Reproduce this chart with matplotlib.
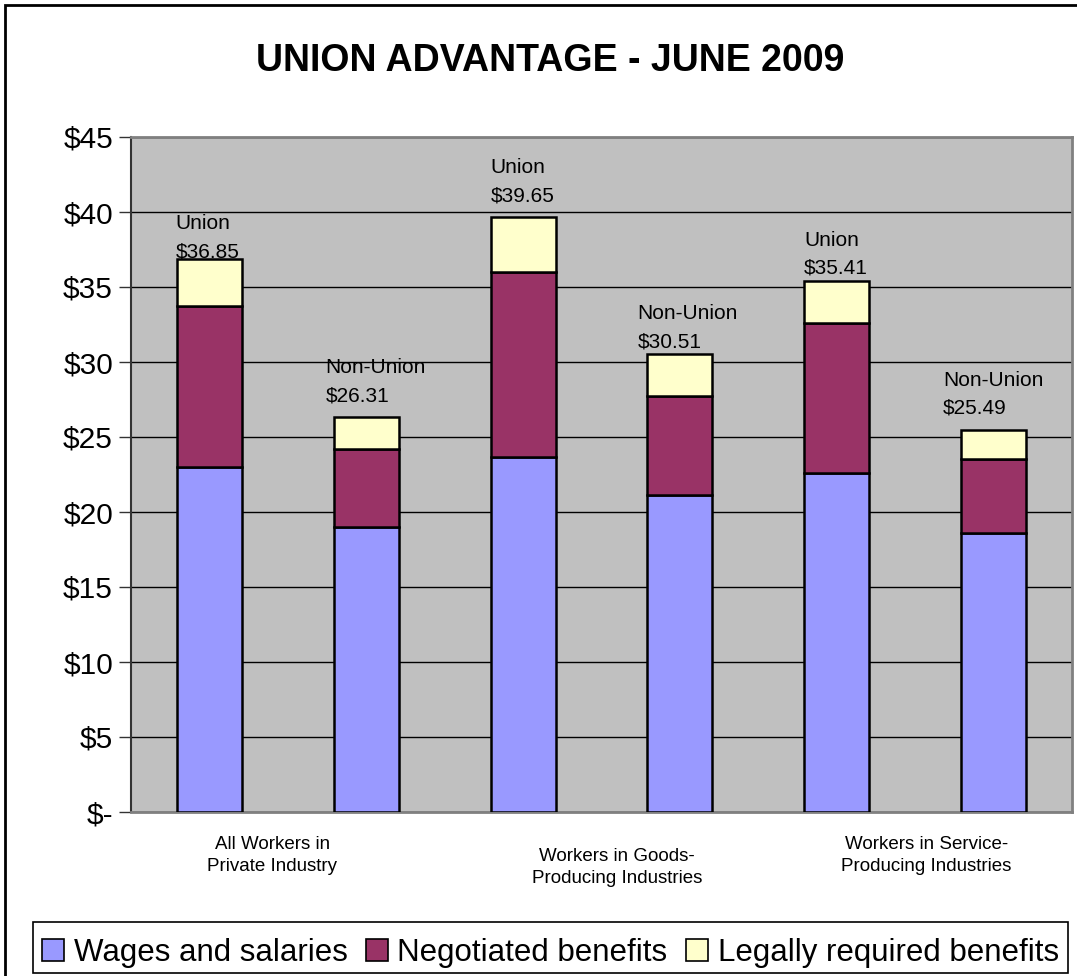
import matplotlib.pyplot as plt
import numpy as np
from matplotlib.patches import Rectangle

plt.rcParams['font.family'] = ['Liberation Sans', 'DejaVu Sans']

# Werte (Stundenkosten in $)
bar_kind = ['Union', 'Non-Union', 'Union', 'Non-Union', 'Union', 'Non-Union']
totals = [36.85, 26.31, 39.65, 30.51, 35.41, 25.49]
wages = [22.98, 19.00, 23.65, 21.13, 22.58, 18.60]
negotiated = [10.77, 5.18, 12.37, 6.63, 10.00, 4.91]
legally = [3.10, 2.13, 3.63, 2.75, 2.83, 1.98]
groups = ['All Workers in\nPrivate Industry',
          'Workers in Goods-\nProducing Industries',
          'Workers in Service-\nProducing Industries']
series_names = ['Wages and salaries', 'Negotiated benefits', 'Legally required benefits']
colors = ['#9999FF', '#993366', '#FFFFCC']

x = np.arange(len(totals))
width = 0.415

fig = plt.figure(figsize=(10.77, 9.76), dpi=100)
ax = fig.add_axes([131/1077, 1-812/976, (1072-131)/1077, (812-137)/976])
ax.set_facecolor('#C0C0C0')

# Gestapelte Balken
bottom = np.zeros(len(x))
handles = []
for vals, col, name in zip([wages, negotiated, legally], colors, series_names):
    b = ax.bar(x, vals, width, bottom=bottom, color=col, edgecolor='black',
               linewidth=1.8, label=name, zorder=3)
    handles.append(b)
    bottom += np.array(vals)

# Beschriftung ueber den Balken (Pixelversatz)
dx_px = [-1, -8, 0, -10, 0, -18]
dy_px = [-2, 12, 12, 3, 3, 12]
for i in range(len(x)):
    ax.annotate(f'{bar_kind[i]}\n${totals[i]:.2f}', xy=(x[i]-width/2, bottom[i]),
                xytext=(dx_px[i]*0.72, dy_px[i]*0.72), textcoords='offset points',
                ha='left', va='bottom', fontsize=15, linespacing=1.6, zorder=5)

ax.set_xlim(-0.5, 5.5)
ax.set_ylim(0, 45)
ax.set_yticks(np.arange(0, 46, 5))
ax.set_yticklabels(['$-'] + [f'${v}' for v in range(5, 46, 5)], fontsize=21.5)
ax.tick_params(axis='y', length=9, width=1, color='#333333', pad=4)
ax.set_xticks([])
ax.yaxis.grid(True, color='black', linewidth=1)
ax.set_axisbelow(True)
for s in ['top', 'right', 'bottom']:
    ax.spines[s].set_color('#808080')
    ax.spines[s].set_linewidth(2)
ax.spines['left'].set_color('#333333')
ax.spines['left'].set_linewidth(1.5)

# Gruppenbeschriftung unter der Achse (abwechselnd versetzt)
group_x = [0.40, 2.60, 4.57]
group_y = [-0.065, -0.082, -0.065]
trans = ax.get_xaxis_transform()
for gx, gy, g in zip(group_x, group_y, groups):
    ax.text(gx, gy, g, transform=trans, ha='center', va='center', fontsize=13.5,
            linespacing=1.4)

fig.text(0.511, 1-61/976, 'UNION ADVANTAGE - JUNE 2009', ha='center', va='center',
         fontsize=27, fontweight='bold')

leg = fig.legend(handles=handles, labels=series_names, loc='center',
                 bbox_to_anchor=(33/1077, -2/976, (1068-33)/1077, 51/976),
                 ncol=3, fontsize=22.5, frameon=False,
                 handlelength=0.7, handleheight=0.7, handletextpad=0.3,
                 columnspacing=0.6, borderpad=0.2, borderaxespad=0)
for h in leg.legend_handles:
    h.set_linewidth(1.2)
fig.patches.append(Rectangle((33/1077, 3/976), (1068-33)/1077, 51/976,
                             transform=fig.transFigure, fill=False,
                             edgecolor='black', linewidth=1.2))

# Rahmen um die ganze Grafik
fig.patches.append(Rectangle((5/1077, -0.05), 1.1, 1.05-5/976, transform=fig.transFigure,
                             fill=False, edgecolor='black', linewidth=2))

plt.savefig('out.png', dpi=100)
